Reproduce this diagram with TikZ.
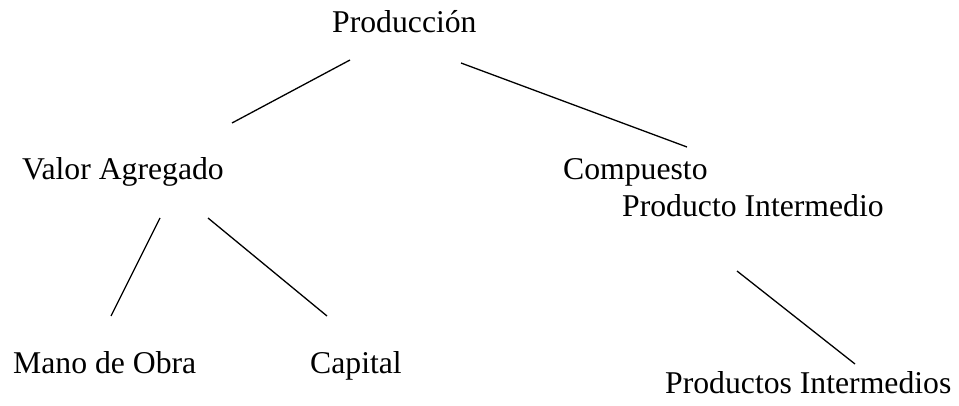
\documentclass[tikz,border=0pt]{standalone}
\usepackage{fontspec}
\setmainfont{Liberation Serif}
\begin{document}
\begin{tikzpicture}[x=1pt,y=-1pt,
  lbl/.style={anchor=base west,inner sep=0pt,font=\fontsize{31.7}{38}\selectfont},
  edge/.style={line width=1.3pt,black}]
\useasboundingbox[fill=white] (0,0) rectangle (959,406);
\node[lbl] (prod) at (332,33) {Producción};
\node[lbl] (va) at (22,180) {Valor Agregado};
\node[lbl] (comp) at (563,180) {Compuesto};
\node[lbl] (pi) at (622,217) {Producto Intermedio};
\node[lbl] (mo) at (13,373) {Mano de Obra};
\node[lbl] (cap) at (310,373) {Capital};
\node[lbl] (pis) at (665,393) {Productos Intermedios};
\coordinate (a1) at (350,60);  \coordinate (a2) at (232,123);
\coordinate (b1) at (461,63);  \coordinate (b2) at (687,147);
\coordinate (c1) at (160,218); \coordinate (c2) at (111,316);
\coordinate (d1) at (208,218); \coordinate (d2) at (327,316);
\coordinate (e1) at (737,271); \coordinate (e2) at (855,364);
\draw[edge] (a1) -- (a2);
\draw[edge] (b1) -- (b2);
\draw[edge] (c1) -- (c2);
\draw[edge] (d1) -- (d2);
\draw[edge] (e1) -- (e2);
\end{tikzpicture}
\end{document}
